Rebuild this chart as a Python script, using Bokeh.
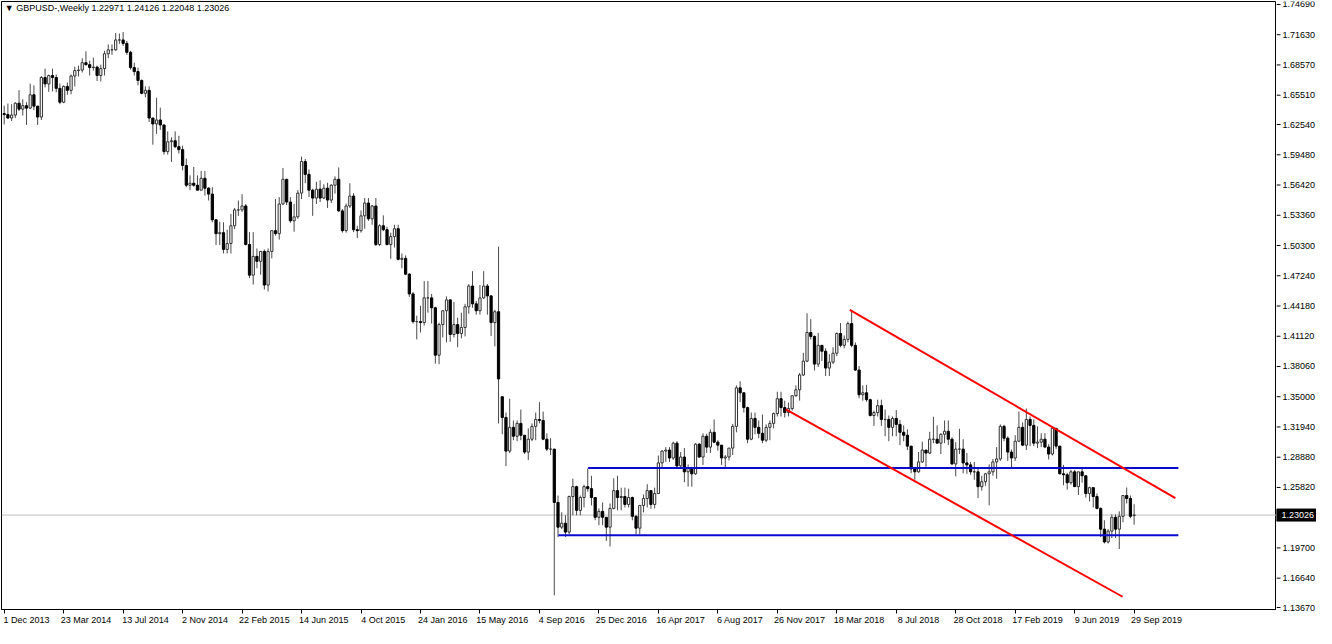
import numpy as np
from bokeh.plotting import figure
from bokeh.layouts import row
from bokeh.models import (Range1d, FixedTicker, LinearAxis, Label, Span,
                          ColumnDataSource)
from bokeh.core.properties import value
from bokeh.embed import file_html
from bokeh.resources import INLINE

# ---------------- data (GBPUSD weekly, bar 0 = week of 1 Dec 2013) ----------------
symbol = "GBPUSD-,Weekly"

opens = [
    1.6365, 1.6355, 1.6320, 1.6350, 1.6470, 1.6410, 1.6445, 1.6420, 1.6555, 1.6440,
    1.6330, 1.6730, 1.6665, 1.6750, 1.6730, 1.6620, 1.6480, 1.6640, 1.6600, 1.6745,
    1.6800, 1.6805, 1.6880, 1.6860, 1.6830, 1.6835, 1.6750, 1.6820, 1.6970, 1.7010,
    1.7010, 1.7110, 1.7110, 1.7075, 1.6985, 1.6830, 1.6790, 1.6700, 1.6570, 1.6600,
    1.6320, 1.6260, 1.6300, 1.6250, 1.5980, 1.6080, 1.6090, 1.6030, 1.6000, 1.5840,
    1.5640, 1.5660, 1.5640, 1.5590, 1.5710, 1.5610, 1.5550, 1.5290, 1.5150, 1.5160,
    1.4990, 1.5050, 1.5230, 1.5390, 1.5390, 1.5430, 1.5040, 1.4730, 1.4920, 1.4870,
    1.4970, 1.4630, 1.4970, 1.5180, 1.5150, 1.5450, 1.5700, 1.5470, 1.5280, 1.5320,
    1.5560, 1.5880, 1.5750, 1.5590, 1.5510, 1.5600, 1.5510, 1.5610, 1.5490, 1.5640,
    1.5700, 1.5380, 1.5180, 1.5430, 1.5530, 1.5190, 1.5180, 1.5330, 1.5460, 1.5300,
    1.5430, 1.5040, 1.5230, 1.5190, 1.5040, 1.5120, 1.5200, 1.4890, 1.4900, 1.4740,
    1.4540, 1.4260, 1.4260, 1.4250, 1.4500, 1.4500, 1.4400, 1.3920, 1.4230, 1.4370,
    1.4480, 1.4130, 1.4230, 1.4140, 1.4200, 1.4410, 1.4620, 1.4440, 1.4370, 1.4500,
    1.4620, 1.4520, 1.4250, 1.4360, 1.3500, 1.3290, 1.2950, 1.3190, 1.3100, 1.3230,
    1.3110, 1.2940, 1.3070, 1.3200, 1.3270, 1.3260, 1.3070, 1.2970, 1.2970, 1.2430,
    1.2180, 1.2220, 1.2130, 1.2490, 1.2590, 1.2350, 1.2480, 1.2590, 1.2570, 1.2480,
    1.2280, 1.2340, 1.2280, 1.2180, 1.2370, 1.2550, 1.2480, 1.2490, 1.2410, 1.2480,
    1.2290, 1.2170, 1.2400, 1.2470, 1.2550, 1.2410, 1.2520, 1.2830, 1.2950, 1.2960,
    1.2880, 1.3030, 1.2800, 1.2890, 1.2740, 1.2780, 1.2720, 1.3020, 1.2890, 1.3100,
    1.2990, 1.3140, 1.3040, 1.3010, 1.2880, 1.2890, 1.2980, 1.3200, 1.3590, 1.3540,
    1.3390, 1.3070, 1.3280, 1.3190, 1.3130, 1.3060, 1.3190, 1.3230, 1.3330, 1.3480,
    1.3390, 1.3340, 1.3380, 1.3510, 1.3570, 1.3720, 1.3860, 1.4150, 1.4110, 1.3830,
    1.4020, 1.3960, 1.3790, 1.3850, 1.3940, 1.4140, 1.4020, 1.4080, 1.4240, 1.4020,
    1.3770, 1.3520, 1.3540, 1.3470, 1.3310, 1.3340, 1.3410, 1.3270, 1.3270, 1.3190,
    1.3280, 1.3220, 1.3140, 1.3110, 1.3000, 1.2770, 1.2740, 1.2840, 1.2960, 1.2930,
    1.3070, 1.3070, 1.3030, 1.3120, 1.3150, 1.3070, 1.2820, 1.2970, 1.2970, 1.2830,
    1.2810, 1.2740, 1.2740, 1.2590, 1.2640, 1.2720, 1.2740, 1.2840, 1.2870, 1.3200,
    1.3080, 1.2940, 1.2880, 1.3050, 1.3190, 1.3010, 1.3270, 1.3210, 1.3030, 1.3040,
    1.3070, 1.2990, 1.2920, 1.3180, 1.3000, 1.2720, 1.2710, 1.2630, 1.2740, 1.2590,
    1.2740, 1.2700, 1.2520, 1.2580, 1.2490, 1.2370, 1.2160, 1.2030, 1.2140, 1.2280,
    1.2160, 1.2290, 1.2500, 1.2470, 1.22971,
]

highs = [
    1.6445, 1.6466, 1.6460, 1.6480, 1.6602, 1.6510, 1.6480, 1.6668, 1.6650, 1.6440,
    1.6745, 1.6820, 1.6760, 1.6820, 1.6760, 1.6670, 1.6650, 1.6680, 1.6760, 1.6840,
    1.6850, 1.6925, 1.6995, 1.6900, 1.6930, 1.6850, 1.6860, 1.7000, 1.7065, 1.7065,
    1.7180, 1.7175, 1.7190, 1.7100, 1.7000, 1.6880, 1.6830, 1.6710, 1.6640, 1.6640,
    1.6320, 1.6525, 1.6425, 1.6250, 1.6185, 1.6125, 1.6185, 1.6140, 1.6040, 1.5910,
    1.5740, 1.5825, 1.5740, 1.5785, 1.5785, 1.5620, 1.5620, 1.5295, 1.5270, 1.5265,
    1.5190, 1.5350, 1.5410, 1.5485, 1.5550, 1.5450, 1.5165, 1.5165, 1.5000, 1.4975,
    1.4990, 1.5000, 1.5180, 1.5500, 1.5520, 1.5815, 1.5705, 1.5520, 1.5450, 1.5590,
    1.5930, 1.5905, 1.5800, 1.5605, 1.5675, 1.5690, 1.5650, 1.5665, 1.5650, 1.5730,
    1.5820, 1.5400, 1.5455, 1.5660, 1.5560, 1.5230, 1.5385, 1.5510, 1.5510, 1.5440,
    1.5510, 1.5245, 1.5335, 1.5220, 1.5160, 1.5240, 1.5240, 1.4950, 1.4930, 1.4750,
    1.4560, 1.4320, 1.4420, 1.4670, 1.4670, 1.4540, 1.4410, 1.4250, 1.4370, 1.4515,
    1.4485, 1.4460, 1.4300, 1.4350, 1.4440, 1.4640, 1.4770, 1.4470, 1.4630, 1.4770,
    1.4640, 1.4530, 1.4380, 1.5018, 1.3500, 1.3340, 1.3480, 1.3260, 1.3260, 1.3370,
    1.3110, 1.3180, 1.3230, 1.3340, 1.3445, 1.3350, 1.3130, 1.3080, 1.2970, 1.2500,
    1.2330, 1.2300, 1.2500, 1.2670, 1.2600, 1.2500, 1.2610, 1.2775, 1.2700, 1.2480,
    1.2370, 1.2430, 1.2280, 1.2420, 1.2675, 1.2700, 1.2580, 1.2580, 1.2570, 1.2490,
    1.2300, 1.2400, 1.2510, 1.2615, 1.2550, 1.2580, 1.2905, 1.2960, 1.2990, 1.2990,
    1.3045, 1.3050, 1.2940, 1.2980, 1.2815, 1.2790, 1.3030, 1.3030, 1.3130, 1.3125,
    1.3170, 1.3270, 1.3060, 1.3010, 1.2910, 1.2980, 1.3225, 1.3615, 1.3657, 1.3540,
    1.3400, 1.3340, 1.3340, 1.3260, 1.3320, 1.3220, 1.3260, 1.3340, 1.3550, 1.3550,
    1.3460, 1.3440, 1.3510, 1.3615, 1.3740, 1.3945, 1.4345, 1.4285, 1.4120, 1.4145,
    1.4020, 1.3990, 1.3930, 1.4000, 1.4150, 1.4245, 1.4120, 1.4260, 1.4377, 1.4050,
    1.3810, 1.3615, 1.3620, 1.3480, 1.3360, 1.3470, 1.3470, 1.3370, 1.3310, 1.3300,
    1.3365, 1.3265, 1.3210, 1.3170, 1.3000, 1.2790, 1.2940, 1.3045, 1.2960, 1.3145,
    1.3297, 1.3210, 1.3130, 1.3260, 1.3260, 1.3090, 1.3040, 1.3175, 1.3070, 1.2930,
    1.2840, 1.2840, 1.2770, 1.2700, 1.2730, 1.2815, 1.2870, 1.2990, 1.3220, 1.3215,
    1.3100, 1.2965, 1.3110, 1.3350, 1.3240, 1.3380, 1.3300, 1.3270, 1.3200, 1.3130,
    1.3130, 1.3020, 1.3180, 1.3180, 1.3000, 1.2810, 1.2730, 1.2760, 1.2760, 1.2740,
    1.2785, 1.2700, 1.2590, 1.2580, 1.2520, 1.2380, 1.2250, 1.2160, 1.2310, 1.2310,
    1.2340, 1.2500, 1.2582, 1.2500, 1.24126,
]

lows = [
    1.6255, 1.6310, 1.6290, 1.6320, 1.6390, 1.6345, 1.6250, 1.6410, 1.6400, 1.6250,
    1.6300, 1.6630, 1.6585, 1.6590, 1.6580, 1.6460, 1.6470, 1.6555, 1.6560, 1.6640,
    1.6740, 1.6780, 1.6850, 1.6750, 1.6800, 1.6695, 1.6690, 1.6750, 1.6925, 1.6960,
    1.7000, 1.7070, 1.7050, 1.6960, 1.6810, 1.6750, 1.6650, 1.6560, 1.6530, 1.6280,
    1.6050, 1.6160, 1.6200, 1.5950, 1.5950, 1.5875, 1.6015, 1.5960, 1.5790, 1.5620,
    1.5590, 1.5625, 1.5590, 1.5590, 1.5535, 1.5485, 1.5265, 1.5035, 1.5035, 1.4950,
    1.4950, 1.4950, 1.5195, 1.5330, 1.5370, 1.5030, 1.4700, 1.4635, 1.4800, 1.4735,
    1.4585, 1.4565, 1.4900, 1.5130, 1.5090, 1.5440, 1.5440, 1.5260, 1.5170, 1.5300,
    1.5500, 1.5660, 1.5520, 1.5330, 1.5450, 1.5470, 1.5500, 1.5410, 1.5460, 1.5555,
    1.5370, 1.5160, 1.5160, 1.5410, 1.5165, 1.5105, 1.5160, 1.5200, 1.5280, 1.5240,
    1.5025, 1.5025, 1.5175, 1.5030, 1.4895, 1.5010, 1.4880, 1.4800, 1.4730, 1.4510,
    1.4240, 1.4080, 1.4150, 1.4220, 1.4350, 1.4240, 1.3835, 1.3830, 1.4100, 1.4050,
    1.4055, 1.4100, 1.4000, 1.4090, 1.4110, 1.4340, 1.4400, 1.4330, 1.4330, 1.4490,
    1.4330, 1.4115, 1.4010, 1.3229, 1.3120, 1.2798, 1.2930, 1.3060, 1.3050, 1.3060,
    1.2920, 1.2860, 1.3050, 1.3060, 1.3230, 1.3060, 1.2950, 1.2910, 1.1490, 1.2080,
    1.2160, 1.2080, 1.2110, 1.2300, 1.2300, 1.2300, 1.2380, 1.2540, 1.2400, 1.2250,
    1.2200, 1.2200, 1.2040, 1.1985, 1.2360, 1.2350, 1.2350, 1.2380, 1.2380, 1.2250,
    1.2110, 1.2110, 1.2330, 1.2380, 1.2365, 1.2370, 1.2515, 1.2770, 1.2840, 1.2840,
    1.2860, 1.2770, 1.2770, 1.2635, 1.2590, 1.2590, 1.2710, 1.2880, 1.2810, 1.2930,
    1.2930, 1.3030, 1.2955, 1.2810, 1.2775, 1.2855, 1.2910, 1.3140, 1.3445, 1.3340,
    1.3030, 1.3060, 1.3120, 1.3080, 1.3030, 1.3040, 1.3060, 1.3180, 1.3300, 1.3300,
    1.3290, 1.3300, 1.3360, 1.3500, 1.3460, 1.3710, 1.3850, 1.4080, 1.3765, 1.3800,
    1.3860, 1.3710, 1.3710, 1.3830, 1.3910, 1.4000, 1.3990, 1.4050, 1.4000, 1.3760,
    1.3485, 1.3460, 1.3450, 1.3300, 1.3205, 1.3300, 1.3205, 1.3100, 1.3050, 1.3100,
    1.3100, 1.3010, 1.3050, 1.2960, 1.2725, 1.2660, 1.2730, 1.2830, 1.2790, 1.2920,
    1.3030, 1.3030, 1.2920, 1.3030, 1.3010, 1.2810, 1.2695, 1.2920, 1.2725, 1.2720,
    1.2710, 1.2660, 1.2475, 1.2550, 1.2600, 1.2400, 1.2700, 1.2670, 1.2850, 1.3050,
    1.2850, 1.2775, 1.2850, 1.3040, 1.3000, 1.2960, 1.3000, 1.3000, 1.2980, 1.2990,
    1.2990, 1.2865, 1.2905, 1.2970, 1.2715, 1.2605, 1.2560, 1.2610, 1.2590, 1.2505,
    1.2630, 1.2480, 1.2440, 1.2380, 1.2360, 1.2080, 1.2015, 1.2015, 1.2070, 1.2070,
    1.1959, 1.2230, 1.2420, 1.2270, 1.22048,
]

closes = [
    1.6355, 1.6320, 1.6350, 1.6470, 1.6410, 1.6445, 1.6420, 1.6555, 1.6440, 1.6330,
    1.6730, 1.6665, 1.6750, 1.6730, 1.6620, 1.6480, 1.6640, 1.6600, 1.6745, 1.6800,
    1.6805, 1.6880, 1.6860, 1.6830, 1.6835, 1.6750, 1.6820, 1.6970, 1.7010, 1.7010,
    1.7110, 1.7110, 1.7075, 1.6985, 1.6830, 1.6790, 1.6700, 1.6570, 1.6600, 1.6320,
    1.6260, 1.6300, 1.6250, 1.5980, 1.6080, 1.6090, 1.6030, 1.6000, 1.5840, 1.5640,
    1.5660, 1.5640, 1.5590, 1.5710, 1.5610, 1.5550, 1.5290, 1.5150, 1.5160, 1.4990,
    1.5050, 1.5230, 1.5390, 1.5390, 1.5430, 1.5040, 1.4730, 1.4920, 1.4870, 1.4970,
    1.4630, 1.4970, 1.5180, 1.5150, 1.5450, 1.5700, 1.5470, 1.5280, 1.5320, 1.5560,
    1.5880, 1.5750, 1.5590, 1.5510, 1.5600, 1.5510, 1.5610, 1.5490, 1.5640, 1.5700,
    1.5380, 1.5180, 1.5430, 1.5530, 1.5190, 1.5180, 1.5330, 1.5460, 1.5300, 1.5430,
    1.5040, 1.5230, 1.5190, 1.5040, 1.5120, 1.5200, 1.4890, 1.4900, 1.4740, 1.4540,
    1.4260, 1.4260, 1.4250, 1.4500, 1.4500, 1.4400, 1.3920, 1.4230, 1.4370, 1.4480,
    1.4130, 1.4230, 1.4140, 1.4200, 1.4410, 1.4620, 1.4440, 1.4370, 1.4500, 1.4620,
    1.4520, 1.4250, 1.4360, 1.3680, 1.3290, 1.2950, 1.3190, 1.3100, 1.3230, 1.3110,
    1.2940, 1.3070, 1.3200, 1.3270, 1.3260, 1.3070, 1.2970, 1.2970, 1.2430, 1.2180,
    1.2220, 1.2130, 1.2490, 1.2590, 1.2350, 1.2480, 1.2590, 1.2570, 1.2480, 1.2280,
    1.2340, 1.2280, 1.2180, 1.2370, 1.2550, 1.2480, 1.2490, 1.2410, 1.2480, 1.2290,
    1.2170, 1.2400, 1.2470, 1.2550, 1.2410, 1.2520, 1.2830, 1.2950, 1.2960, 1.2880,
    1.3030, 1.2800, 1.2890, 1.2740, 1.2780, 1.2720, 1.3020, 1.2890, 1.3100, 1.2990,
    1.3140, 1.3040, 1.3010, 1.2880, 1.2890, 1.2980, 1.3200, 1.3590, 1.3540, 1.3390,
    1.3070, 1.3280, 1.3190, 1.3130, 1.3060, 1.3190, 1.3230, 1.3330, 1.3480, 1.3390,
    1.3340, 1.3380, 1.3510, 1.3570, 1.3720, 1.3860, 1.4150, 1.4110, 1.3830, 1.4020,
    1.3960, 1.3790, 1.3850, 1.3940, 1.4140, 1.4020, 1.4080, 1.4240, 1.4020, 1.3770,
    1.3520, 1.3540, 1.3470, 1.3310, 1.3340, 1.3410, 1.3270, 1.3270, 1.3190, 1.3280,
    1.3220, 1.3140, 1.3110, 1.3000, 1.2770, 1.2740, 1.2840, 1.2960, 1.2930, 1.3070,
    1.3070, 1.3030, 1.3120, 1.3150, 1.3070, 1.2820, 1.2970, 1.2970, 1.2830, 1.2810,
    1.2740, 1.2740, 1.2590, 1.2640, 1.2720, 1.2740, 1.2840, 1.2870, 1.3200, 1.3080,
    1.2940, 1.2880, 1.3050, 1.3190, 1.3010, 1.3270, 1.3210, 1.3030, 1.3040, 1.3070,
    1.2990, 1.2920, 1.3180, 1.3000, 1.2720, 1.2710, 1.2630, 1.2740, 1.2590, 1.2740,
    1.2700, 1.2520, 1.2580, 1.2490, 1.2370, 1.2160, 1.2030, 1.2140, 1.2280, 1.2160,
    1.2290, 1.2500, 1.2470, 1.2290, 1.23026,
]

# date labels of the time scale and the bar each one sits on
date_labels = ["1 Dec 2013", "23 Mar 2014", "13 Jul 2014", "2 Nov 2014", "22 Feb 2015",
               "14 Jun 2015", "4 Oct 2015", "24 Jan 2016", "15 May 2016", "4 Sep 2016",
               "25 Dec 2016", "16 Apr 2017", "6 Aug 2017", "26 Nov 2017", "18 Mar 2018",
               "8 Jul 2018", "28 Oct 2018", "17 Feb 2019", "9 Jun 2019", "29 Sep 2019"]
date_label_bars = [0, 16, 32, 48, 64, 80, 96, 112, 128, 144,
                   160, 176, 192, 208, 224, 240, 256, 272, 288, 304]

price_ticks = [1.74690, 1.71630, 1.68570, 1.65510, 1.62540, 1.59480, 1.56420, 1.53360,
               1.50300, 1.47240, 1.44180, 1.41120, 1.38060, 1.35000, 1.31940, 1.28880,
               1.25820, 1.19700, 1.16640, 1.13670]

current_price = 1.23026

# horizontal levels (blue): price, first bar, last bar
level_prices = [1.2779, 1.2098]
level_start_bars = [157.1, 149.1]
level_end_bars = [315.9, 315.9]

# descending channel (red)
channel_upper_bars = [227.5, 315.1]
channel_upper_prices = [1.4378, 1.2473]
channel_lower_bars = [210.3, 300.9]
channel_lower_prices = [1.3371, 1.1476]

# ---------------- figures ----------------
FONT = "Liberation Sans"
FSIZE = "9px"

o = np.array(opens); h = np.array(highs); l = np.array(lows); c = np.array(closes)
x = np.arange(len(c))
bull = c >= o
top = np.maximum(o, c)
bottom = np.minimum(o, c)

X_START, X_END = -0.72, 342.3
Y_START, Y_END = 1.1347, 1.7499
FRAME_W, FRAME_H = 1275, 608
SCALE_W = 40
EXTRA_BOTTOM = 14          # room under the chart for the lowest price label
px_per_price = FRAME_H / (Y_END - Y_START)

p = figure(frame_width=FRAME_W, frame_height=FRAME_H,
           x_range=Range1d(X_START, X_END), y_range=Range1d(Y_START, Y_END),
           output_backend="svg", toolbar_location=None,
           x_axis_type=None, y_axis_type=None,
           min_border_left=1, min_border_top=1, min_border_right=0, min_border_bottom=0,
           background_fill_color="white", border_fill_color="white",
           outline_line_color="black", outline_line_width=1)
p.grid.visible = False

ax_ticks = LinearAxis(ticker=FixedTicker(ticks=date_label_bars),
                      major_label_overrides={b: "" for b in date_label_bars},
                      major_tick_out=4, major_tick_in=0, minor_tick_out=0, minor_tick_in=0,
                      major_label_standoff=0, major_label_text_font_size="1px",
                      axis_line_color="black", major_tick_line_color="black")
label_pos = [b + 6 for b in date_label_bars]
ax_labels = LinearAxis(ticker=FixedTicker(ticks=label_pos),
                       major_label_overrides={pos: s for pos, s in zip(label_pos, date_labels)},
                       major_tick_out=0, major_tick_in=0, minor_tick_out=0, minor_tick_in=0,
                       major_label_standoff=1, axis_line_color=None,
                       major_tick_line_color=None,
                       major_label_text_font=FONT, major_label_text_font_size=FSIZE,
                       major_label_text_color="black")
p.add_layout(ax_ticks, "below")
p.add_layout(ax_labels, "below")

# current price line
p.add_layout(Span(location=current_price, dimension="width", line_color="#BDBDBD",
                  line_width=1, level="underlay"))

# candles
all_src = ColumnDataSource(dict(x=x, high=h, low=l))
bull_src = ColumnDataSource(dict(x=x[bull], top=top[bull], bottom=bottom[bull]))
bear_src = ColumnDataSource(dict(x=x[~bull], top=top[~bull], bottom=bottom[~bull]))

p.segment(x0="x", y0="low", x1="x", y1="high", source=all_src,
          line_color="#4a4a4a", line_width=1)
p.vbar(x="x", width=0.6, top="top", bottom="bottom", source=bull_src,
       fill_color="white", line_color="#303030", line_width=1)
p.vbar(x="x", width=0.6, top="top", bottom="bottom", source=bear_src,
       fill_color="black", line_color="black", line_width=1)

# blue levels
for lp, xs, xe in zip(level_prices, level_start_bars, level_end_bars):
    p.line(x=[xs, xe], y=[lp, lp], line_color="#0A0ACD", line_width=2)

# red channel
p.line(x=channel_upper_bars, y=channel_upper_prices, line_color="#FF0000", line_width=2)
p.line(x=channel_lower_bars, y=channel_lower_prices, line_color="#FF0000", line_width=2)

# header
header = "\u25BC " + symbol + "  " + " ".join(
    f"{v:.5f}" for v in (opens[-1], highs[-1], lows[-1], closes[-1]))
p.add_layout(Label(x=X_START + 0.9, y=Y_END - 0.002, text=header,
                   text_baseline="top", text_align="left",
                   text_font=FONT, text_font_size=FSIZE, text_color="black"))

# ---- price scale (right) : same price-per-pixel as the chart ----
s = figure(frame_width=SCALE_W, frame_height=FRAME_H + EXTRA_BOTTOM,
           x_range=Range1d(0, SCALE_W),
           y_range=Range1d(Y_START - EXTRA_BOTTOM / px_per_price, Y_END),
           output_backend="svg", toolbar_location=None,
           x_axis_type=None, y_axis_type=None,
           min_border_left=0, min_border_top=1, min_border_right=0, min_border_bottom=0,
           background_fill_color="white", border_fill_color="white",
           outline_line_color=None)
s.grid.visible = False

tick_src = ColumnDataSource(dict(y=price_ticks, txt=[f"{v:.5f}" for v in price_ticks]))
s.segment(x0=0, y0="y", x1=4, y1="y", source=tick_src, line_color="black", line_width=1)
s.text(x=6, y="y", text="txt", source=tick_src, text_font=value(FONT),
       text_font_size=FSIZE, text_baseline="middle", text_align="left", text_color="black")

s.rect(x=SCALE_W / 2, y=current_price, width=SCALE_W, height=12, height_units="screen",
       fill_color="black", line_color="black")
s.text(x=[5], y=[current_price], text=[f"{current_price:.5f}"], text_font=value(FONT),
       text_font_size=FSIZE, text_baseline="middle", text_align="left", text_color="white")

layout = row(p, s, spacing=0)
open("out.html", "w").write(file_html(layout, INLINE))
